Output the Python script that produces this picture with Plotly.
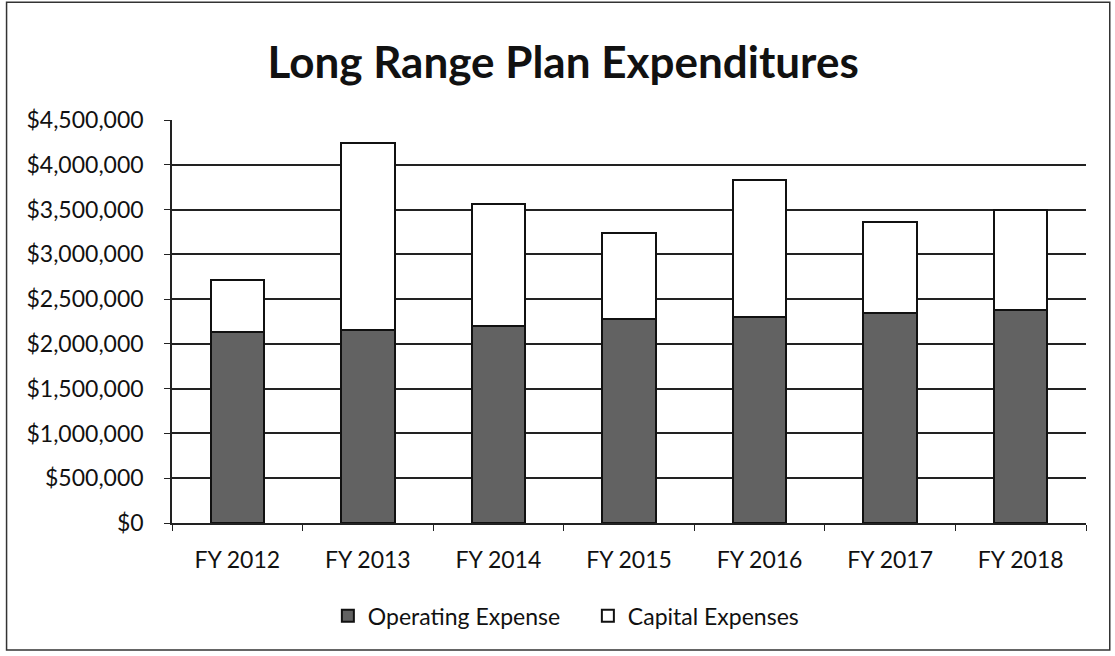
import plotly.graph_objects as go

categories = ["FY 2012", "FY 2013", "FY 2014", "FY 2015", "FY 2016", "FY 2017", "FY 2018"]
operating = [2135000, 2154000, 2199000, 2277000, 2295000, 2347000, 2377000]
capital = [577000, 2084000, 1358000, 963000, 1530000, 1016000, 1113000]
tick_vals = [0, 500000, 1000000, 1500000, 2000000, 2500000, 3000000, 3500000, 4000000, 4500000]
tick_text = ["$0", "$500,000", "$1,000,000", "$1,500,000", "$2,000,000", "$2,500,000",
             "$3,000,000", "$3,500,000", "$4,000,000", "$4,500,000"]

font_family = "Lato, 'Open Sans', sans-serif"

fig = go.Figure()
fig.add_trace(go.Bar(x=categories, y=operating, name="Operating Expense",
                     marker=dict(color="#626262", line=dict(color="#111111", width=2))))
fig.add_trace(go.Bar(x=categories, y=capital, name="Capital Expenses",
                     marker=dict(color="#ffffff", line=dict(color="#111111", width=2))))

fig.update_layout(
    barmode="stack",
    bargap=0.59,
    width=1115, height=656,
    margin=dict(l=172, r=29, t=120, b=133),
    paper_bgcolor="white", plot_bgcolor="white",
    font=dict(family=font_family, color="#111111", size=23),
    title=dict(text="<b>Long Range Plan Expenditures</b>", x=0.505, xanchor="center",
               y=0.905, yanchor="middle", font=dict(size=44, family=font_family, color="#111111")),
    legend=dict(orientation="h", x=0.455, xanchor="center", y=-0.23, yanchor="middle",
                font=dict(size=23), itemsizing="constant", traceorder="normal",
                entrywidth=215, entrywidthmode="pixels"),
    shapes=[dict(type="rect", xref="paper", yref="paper",
                 x0=-0.181, x1=1.026, y0=-0.315, y1=1.292,
                 line=dict(color="#333333", width=1.5))],
)
fig.update_xaxes(showline=True, linecolor="#222222", linewidth=1.5,
                 ticks="outside", tickson="boundaries", ticklen=6, tickcolor="#222222",
                 tickfont=dict(size=23), showgrid=False, ticklabelstandoff=16)
fig.update_yaxes(range=[0, 4500000], tickvals=tick_vals, ticktext=tick_text,
                 showline=True, linecolor="#222222", linewidth=1.5,
                 ticks="outside", ticklen=6, tickcolor="#222222",
                 showgrid=True, gridcolor="#222222", gridwidth=1.5,
                 tickfont=dict(size=23), zeroline=False, ticklabelstandoff=16)

fig.write_html("out.html")
